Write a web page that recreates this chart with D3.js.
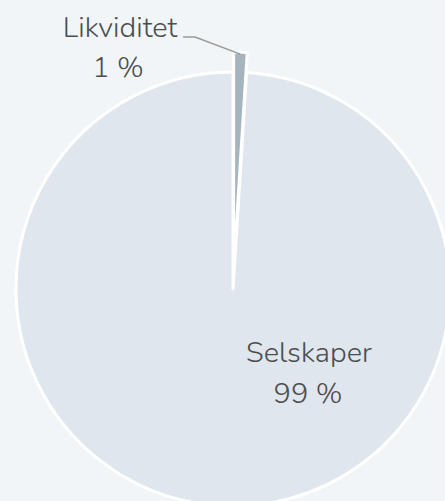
<!DOCTYPE html>
<html>
<head>
<meta charset="utf-8">
<script src="https://cdn.jsdelivr.net/npm/d3@7"></script>
<style>
  html, body { margin: 0; padding: 0; background: #f2f5f8; overflow: hidden; }
  text { font-family: "Nunito", "Lato", "Open Sans", sans-serif; font-weight: 300; fill: #4d4d4d; }
</style>
</head>
<body>
<div id="plot"></div>
<script>
// data
const categories = ['Likviditet', 'Selskaper']
const values = [1, 99]
const percentLabels = ['1 %', '99 %']
const colors = ['#a6b4be', '#dfe6ed']
const sliced = [true, false]

const width = 445
const height = 501
const cx = 233
const cy = 289
const radius = 217
const slicedOffset = 20

const svg = d3.select('#plot')
  .append('svg')
  .attr('width', width)
  .attr('height', height)

svg.append('rect')
  .attr('width', width)
  .attr('height', height)
  .attr('fill', '#f2f5f8')

const pieData = d3.pie().sort(null).value(d => d.value)(
  categories.map((c, i) => ({ name: c, value: values[i], label: percentLabels[i], color: colors[i], sliced: sliced[i] }))
)

const arc = d3.arc().innerRadius(0).outerRadius(radius)

const g = svg.append('g').attr('transform', 'translate(' + cx + ',' + cy + ')')

function offsetOf(d) {
  if (!d.data.sliced) return [0, 0]
  const a = (d.startAngle + d.endAngle) / 2
  return [Math.sin(a) * slicedOffset, -Math.cos(a) * slicedOffset]
}

g.selectAll('path.slice')
  .data(pieData)
  .enter()
  .append('path')
  .attr('class', 'slice')
  .attr('d', arc)
  .attr('fill', d => d.data.color)
  .attr('stroke', '#ffffff')
  .attr('stroke-width', 3)
  .attr('stroke-linejoin', 'round')
  .attr('transform', d => 'translate(' + offsetOf(d) + ')')

// outside label for the small slice
const small = pieData[0]
const sOff = offsetOf(small)
const a0 = (small.startAngle + small.endAngle) / 2
const edge = [sOff[0] + Math.sin(a0) * (radius - 2), sOff[1] - Math.cos(a0) * (radius - 2)]
const labelX = -113
const labelY = -252

g.append('path')
  .attr('d', d3.line()([[labelX + 63, labelY], [labelX + 75, labelY], edge]))
  .attr('fill', 'none')
  .attr('stroke', '#999')
  .attr('stroke-width', 1.5)

const smallText = g.append('text')
  .attr('text-anchor', 'middle')
  .style('font-size', '29px')
smallText.append('tspan').attr('x', labelX).attr('y', labelY).text(small.data.name)
smallText.append('tspan').attr('x', labelX - 2).attr('y', labelY + 40).text(small.data.label)

// inside label for the large slice
const big = pieData[1]
const bigX = 76
const bigY = 73
const bigText = g.append('text')
  .attr('text-anchor', 'middle')
  .style('font-size', '29px')
bigText.append('tspan').attr('x', bigX).attr('y', bigY).text(big.data.name)
bigText.append('tspan').attr('x', bigX - 1).attr('y', bigY + 41).text(big.data.label)
</script>
</body>
</html>
